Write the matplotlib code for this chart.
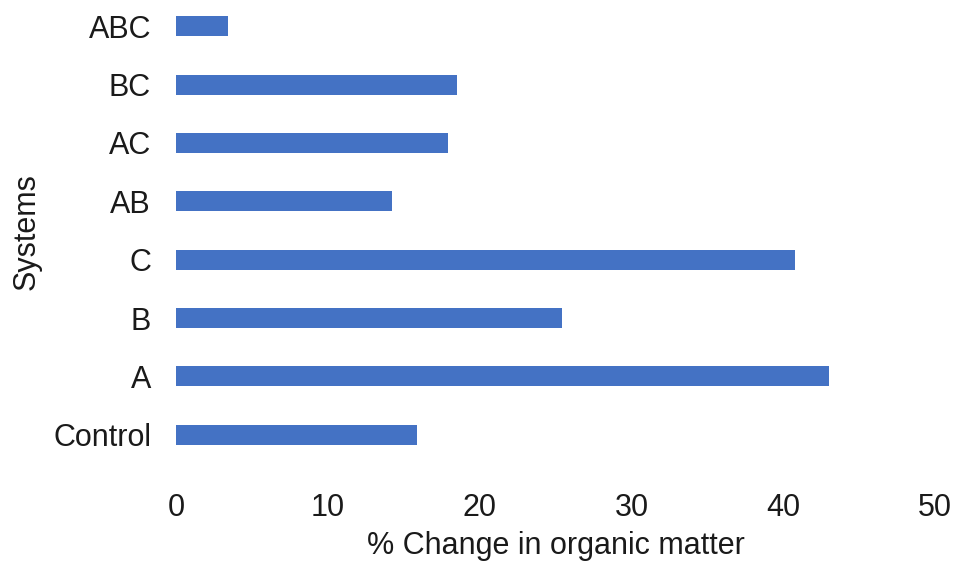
import matplotlib.pyplot as plt

plt.rcParams['font.family'] = ['Liberation Sans', 'DejaVu Sans']

# systems, bottom to top
systems = ['Control', 'A', 'B', 'C', 'AB', 'AC', 'BC', 'ABC']
pct_change = [15.9, 43.0, 25.4, 40.8, 14.2, 17.9, 18.5, 3.4]
xticks = [0, 10, 20, 30, 40, 50]

fig = plt.figure(figsize=(9.63, 5.63), dpi=100)
ax = fig.add_axes([0.1828, 0.176, 0.971 - 0.1828, 0.824])

ax.barh(range(len(systems)), pct_change, height=0.34, color='#4472C4')

ax.set_xlim(0, 50)
ax.set_ylim(-0.5, 7.45)
ax.set_xticks(xticks)
ax.set_yticks(range(len(systems)))
ax.set_yticklabels(systems)
ax.tick_params(axis='both', length=0, labelsize=22, colors='#1a1a1a')
ax.tick_params(axis='x', pad=21)
ax.tick_params(axis='y', pad=18)

for s in ax.spines.values():
    s.set_visible(False)

ax.set_xlabel('% Change in organic matter', fontsize=22, color='#1a1a1a', labelpad=6)
ax.set_ylabel('Systems', fontsize=22, color='#1a1a1a', labelpad=8)

plt.savefig('out.png', dpi=100)
